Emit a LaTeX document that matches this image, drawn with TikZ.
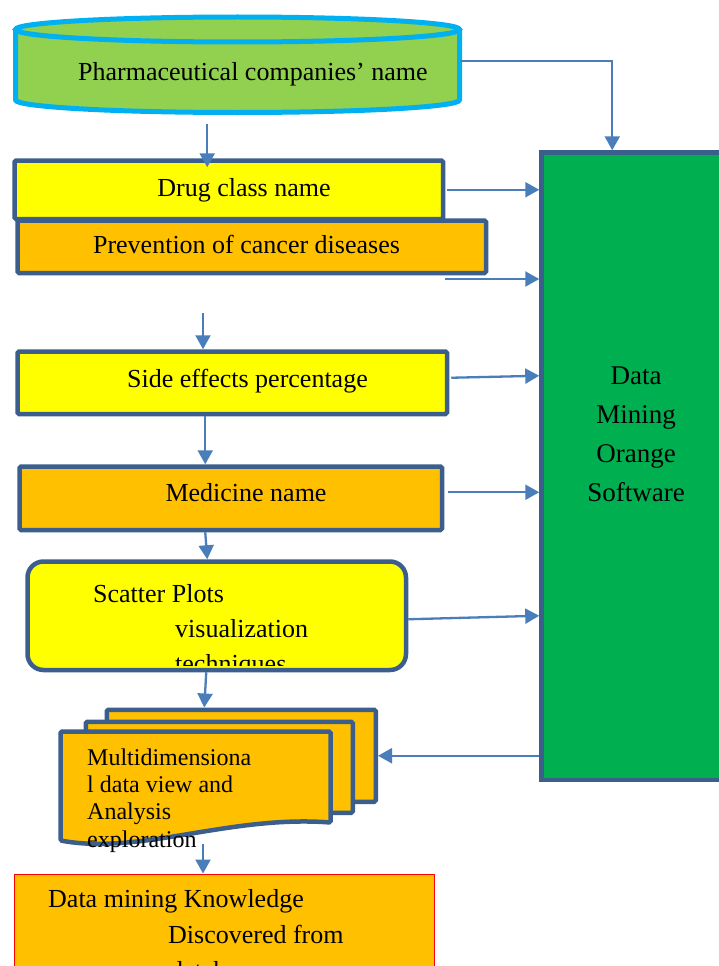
\documentclass[tikz,border=0pt]{standalone}
\usepackage{fontspec}
\setmainfont{Liberation Serif}
\usetikzlibrary{arrows.meta,calc}
\definecolor{bord}{HTML}{3B5E8C}
\definecolor{arrc}{HTML}{4A7EBB}
\definecolor{cyanb}{HTML}{00B0F0}
\definecolor{lgreen}{HTML}{92D050}
\definecolor{yel}{HTML}{FFFF00}
\definecolor{orng}{HTML}{FFC000}
\definecolor{dgreen}{HTML}{00B050}
\begin{document}
\begin{tikzpicture}[x=1pt,y=-1pt,
  box/.style={draw=bord,line width=4.5pt,inner sep=0pt,anchor=north west,rounded corners=1.5pt},
  arr/.style={draw=arrc,line width=2.3pt,-{Triangle[length=14pt,width=15pt]}},
  lbl/.style={font=\fontsize{26}{35}\selectfont,inner sep=0pt,text=black},
  ghost/.style={inner sep=0pt,anchor=north west}]
\useasboundingbox (0,0) rectangle (719,966);
\fill[white] (0,0) rectangle (719,966);
\clip (0,0) rectangle (719,966);

% database cylinder
\fill[lgreen] (15.5,29.5) -- (15.5,100) arc[start angle=180,end angle=0,x radius=222,y radius=12.5]
  -- (459.5,29.5) arc[start angle=0,end angle=-180,x radius=222,y radius=12.5] -- cycle;
\draw[cyanb,line width=5pt,line join=round] (15.5,29.5) -- (15.5,100) arc[start angle=180,end angle=0,x radius=222,y radius=12.5]
  -- (459.5,29.5);
\draw[cyanb,line width=5pt] (237.5,29.5) ellipse[x radius=222,y radius=12.5];
\node[ghost,minimum width=447pt,minimum height=100pt] (db) at (13,15) {};
\node[lbl,anchor=base west] (dbtxt) at (78,81) {Pharmaceutical companies’ name};

% green box
\node[box,fill=dgreen,minimum width=221pt,minimum height=627.5pt,rounded corners=0pt] (green) at (539.25,150.25) {};
\node[lbl,font=\fontsize{27}{39}\selectfont,align=center,anchor=base] (greentxt) at (636,501) {Data\\Mining\\Orange\\Software};

% left boxes
\node[box,fill=yel,minimum width=428.5pt,minimum height=58.5pt] (drug) at (12.25,158.25) {};
\node[lbl,anchor=base] (drugtxt) at (244,196) {Drug class name};
\node[box,fill=orng,minimum width=468.5pt,minimum height=52.5pt] (prev) at (15.25,218.25) {};
\node[lbl,anchor=base] (prevtxt) at (246.5,253) {Prevention of cancer diseases};
\node[box,fill=yel,minimum width=429.5pt,minimum height=62.5pt] (side) at (15.25,349.25) {};
\node[lbl,anchor=base] (sidetxt) at (247.5,387) {Side effects percentage};
\node[box,fill=orng,minimum width=422.5pt,minimum height=63.5pt] (med) at (17.25,464.25) {};
\node[lbl,anchor=base] (medtxt) at (246,501) {Medicine name};

% scatter box
\node[box,fill=yel,minimum width=378.5pt,minimum height=108.5pt,rounded corners=16pt] (scat) at (25.25,559.25) {};
\begin{scope}
\clip[rounded corners=14pt] (27.5,561.5) rectangle (401.5,665.5);
\node[lbl,align=left,anchor=base west] (scattxt) at (93,672) {Scatter Plots\\\hspace*{82pt}visualization\\\hspace*{82pt}techniques};
\end{scope}

% document stack
\node[box,fill=orng,minimum width=269pt,minimum height=92pt] (docback) at (104.5,707.5) {};
\node[box,fill=orng,minimum width=267pt,minimum height=91pt] (docmid) at (83.5,719.5) {};
\draw[bord,fill=orng,line width=4.5pt,rounded corners=1.5pt] (60.5,731.5) -- (330.5,731.5) -- (330.5,822.5)
  .. controls (230,815) and (140,855) .. (60.5,840.5) -- cycle;
\node[lbl,font=\fontsize{24}{27.3}\selectfont,align=left,anchor=base west] (doctxt) at (87,847) {Multidimensiona\\l data view and\\Analysis\\exploration};
\coordinate (docfront) at (203,844);

% final box
\node[draw=red,line width=1pt,fill=orng,inner sep=0pt,anchor=north west,minimum width=420pt,minimum height=130pt] (final) at (13.5,873.5) {};
\node[lbl,font=\fontsize{26}{36}\selectfont,align=left,anchor=base west] (finaltxt) at (48,979) {Data mining Knowledge\\\hspace*{120pt}Discovered from\\\hspace*{122pt}database};

% connectors
\draw[arr] ([yshift=4pt]db.east) -| ([xshift=-39.75pt]green.north);
\draw[arr] ([xshift=-29.5pt,yshift=-9pt]db.south) -- ([xshift=-29.5pt,yshift=-9pt]db.south |- drug.north);
\draw[arr] ([xshift=2pt]drug.east) -- (drug.east -| green.west);
\coordinate (p2) at (445,279);
\draw[arr] (p2) -- (p2 -| green.west);
\coordinate (a2) at (203,313);
\draw[arr] (a2) -- (a2 |- side.north);
\draw[arr] ([xshift=2pt,yshift=5pt]side.east) -- ([yshift=7pt]side.east -| green.west);
\draw[arr] ([xshift=-27pt]side.south) -- ([xshift=-27pt]side.south |- med.north);
\draw[arr] ([xshift=4pt,yshift=6pt]med.east) -- ([yshift=6pt]med.east -| green.west);
\draw[arr] ([xshift=-25.5pt]med.south) -- ([xshift=-9.5pt]scat.north);
\draw[arr] ([yshift=-3.5pt]scat.east) -- (scat.east -| green.west);
\draw[arr] ([xshift=-10.5pt]scat.south) -- ([xshift=-37pt]docback.north);
\draw[arr] (green.west |- docback.east) -- (docback.east);
\draw[arr] (docfront) -- (docfront |- final.north);
\end{tikzpicture}
\end{document}
